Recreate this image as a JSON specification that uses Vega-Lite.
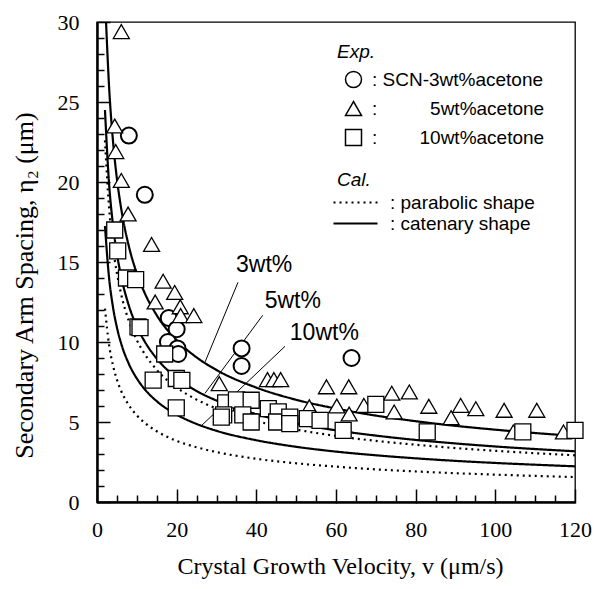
{
  "$schema": "https://vega.github.io/schema/vega-lite/v6.json",
  "autosize": {"type": "none"},
  "width": 478,
  "height": 480,
  "padding": {"left": 97, "top": 22, "right": 23, "bottom": 87},
  "background": "white",
  "config": {
    "view": {"stroke": "black", "strokeWidth": 1.3},
    "axis": {"grid": false, "labelColor": "black", "titleColor": "black", "domainColor": "black"},
    "legend": {"padding": 0, "labelFont": "Liberation Sans", "labelFontSize": 19, "labelColor": "black", "labelLimit": 0, "titleFont": "Liberation Sans", "titleFontSize": 19, "titleFontWeight": "normal", "titleFontStyle": "italic", "titleColor": "black"}
  },
  "datasets": {
    "curves": [
      {"conc": "3wt%", "shape": "catenary", "v": 2.27, "eta": 30.0},
      {"conc": "3wt%", "shape": "catenary", "v": 3, "eta": 26.1},
      {"conc": "3wt%", "shape": "catenary", "v": 4, "eta": 22.6},
      {"conc": "3wt%", "shape": "catenary", "v": 5, "eta": 20.2},
      {"conc": "3wt%", "shape": "catenary", "v": 6, "eta": 18.45},
      {"conc": "3wt%", "shape": "catenary", "v": 8, "eta": 15.98},
      {"conc": "3wt%", "shape": "catenary", "v": 10, "eta": 14.29},
      {"conc": "3wt%", "shape": "catenary", "v": 12, "eta": 13.05},
      {"conc": "3wt%", "shape": "catenary", "v": 15, "eta": 11.67},
      {"conc": "3wt%", "shape": "catenary", "v": 20, "eta": 10.11},
      {"conc": "3wt%", "shape": "catenary", "v": 25, "eta": 9.04},
      {"conc": "3wt%", "shape": "catenary", "v": 30, "eta": 8.25},
      {"conc": "3wt%", "shape": "catenary", "v": 40, "eta": 7.15},
      {"conc": "3wt%", "shape": "catenary", "v": 50, "eta": 6.39},
      {"conc": "3wt%", "shape": "catenary", "v": 60, "eta": 5.84},
      {"conc": "3wt%", "shape": "catenary", "v": 70, "eta": 5.40},
      {"conc": "3wt%", "shape": "catenary", "v": 80, "eta": 5.05},
      {"conc": "3wt%", "shape": "catenary", "v": 90, "eta": 4.76},
      {"conc": "3wt%", "shape": "catenary", "v": 100, "eta": 4.52},
      {"conc": "3wt%", "shape": "catenary", "v": 110, "eta": 4.31},
      {"conc": "3wt%", "shape": "catenary", "v": 120, "eta": 4.13},
      {"conc": "5wt%", "shape": "catenary", "v": 2, "eta": 24.5},
      {"conc": "5wt%", "shape": "catenary", "v": 3, "eta": 20.0},
      {"conc": "5wt%", "shape": "catenary", "v": 4, "eta": 17.35},
      {"conc": "5wt%", "shape": "catenary", "v": 5, "eta": 15.52},
      {"conc": "5wt%", "shape": "catenary", "v": 6, "eta": 14.17},
      {"conc": "5wt%", "shape": "catenary", "v": 8, "eta": 12.27},
      {"conc": "5wt%", "shape": "catenary", "v": 10, "eta": 10.97},
      {"conc": "5wt%", "shape": "catenary", "v": 12, "eta": 10.02},
      {"conc": "5wt%", "shape": "catenary", "v": 15, "eta": 8.96},
      {"conc": "5wt%", "shape": "catenary", "v": 20, "eta": 7.76},
      {"conc": "5wt%", "shape": "catenary", "v": 25, "eta": 6.94},
      {"conc": "5wt%", "shape": "catenary", "v": 30, "eta": 6.34},
      {"conc": "5wt%", "shape": "catenary", "v": 40, "eta": 5.49},
      {"conc": "5wt%", "shape": "catenary", "v": 50, "eta": 4.91},
      {"conc": "5wt%", "shape": "catenary", "v": 60, "eta": 4.48},
      {"conc": "5wt%", "shape": "catenary", "v": 70, "eta": 4.15},
      {"conc": "5wt%", "shape": "catenary", "v": 80, "eta": 3.88},
      {"conc": "5wt%", "shape": "catenary", "v": 90, "eta": 3.66},
      {"conc": "5wt%", "shape": "catenary", "v": 100, "eta": 3.47},
      {"conc": "5wt%", "shape": "catenary", "v": 110, "eta": 3.31},
      {"conc": "5wt%", "shape": "catenary", "v": 120, "eta": 3.17},
      {"conc": "5wt%", "shape": "parabolic", "v": 2, "eta": 22.6},
      {"conc": "5wt%", "shape": "parabolic", "v": 3, "eta": 18.5},
      {"conc": "5wt%", "shape": "parabolic", "v": 4, "eta": 16.0},
      {"conc": "5wt%", "shape": "parabolic", "v": 5, "eta": 14.3},
      {"conc": "5wt%", "shape": "parabolic", "v": 6, "eta": 13.06},
      {"conc": "5wt%", "shape": "parabolic", "v": 8, "eta": 11.31},
      {"conc": "5wt%", "shape": "parabolic", "v": 10, "eta": 10.12},
      {"conc": "5wt%", "shape": "parabolic", "v": 12, "eta": 9.24},
      {"conc": "5wt%", "shape": "parabolic", "v": 15, "eta": 8.26},
      {"conc": "5wt%", "shape": "parabolic", "v": 20, "eta": 7.16},
      {"conc": "5wt%", "shape": "parabolic", "v": 25, "eta": 6.4},
      {"conc": "5wt%", "shape": "parabolic", "v": 30, "eta": 5.84},
      {"conc": "5wt%", "shape": "parabolic", "v": 40, "eta": 5.06},
      {"conc": "5wt%", "shape": "parabolic", "v": 50, "eta": 4.53},
      {"conc": "5wt%", "shape": "parabolic", "v": 60, "eta": 4.13},
      {"conc": "5wt%", "shape": "parabolic", "v": 70, "eta": 3.82},
      {"conc": "5wt%", "shape": "parabolic", "v": 80, "eta": 3.58},
      {"conc": "5wt%", "shape": "parabolic", "v": 90, "eta": 3.37},
      {"conc": "5wt%", "shape": "parabolic", "v": 100, "eta": 3.2},
      {"conc": "5wt%", "shape": "parabolic", "v": 110, "eta": 3.05},
      {"conc": "5wt%", "shape": "parabolic", "v": 120, "eta": 2.92},
      {"conc": "10wt%", "shape": "catenary", "v": 2, "eta": 17.25},
      {"conc": "10wt%", "shape": "catenary", "v": 3, "eta": 14.09},
      {"conc": "10wt%", "shape": "catenary", "v": 4, "eta": 12.2},
      {"conc": "10wt%", "shape": "catenary", "v": 5, "eta": 10.91},
      {"conc": "10wt%", "shape": "catenary", "v": 6, "eta": 9.96},
      {"conc": "10wt%", "shape": "catenary", "v": 8, "eta": 8.63},
      {"conc": "10wt%", "shape": "catenary", "v": 10, "eta": 7.72},
      {"conc": "10wt%", "shape": "catenary", "v": 12, "eta": 7.04},
      {"conc": "10wt%", "shape": "catenary", "v": 15, "eta": 6.3},
      {"conc": "10wt%", "shape": "catenary", "v": 20, "eta": 5.46},
      {"conc": "10wt%", "shape": "catenary", "v": 25, "eta": 4.88},
      {"conc": "10wt%", "shape": "catenary", "v": 30, "eta": 4.45},
      {"conc": "10wt%", "shape": "catenary", "v": 40, "eta": 3.86},
      {"conc": "10wt%", "shape": "catenary", "v": 50, "eta": 3.45},
      {"conc": "10wt%", "shape": "catenary", "v": 60, "eta": 3.15},
      {"conc": "10wt%", "shape": "catenary", "v": 70, "eta": 2.92},
      {"conc": "10wt%", "shape": "catenary", "v": 80, "eta": 2.73},
      {"conc": "10wt%", "shape": "catenary", "v": 90, "eta": 2.57},
      {"conc": "10wt%", "shape": "catenary", "v": 100, "eta": 2.44},
      {"conc": "10wt%", "shape": "catenary", "v": 110, "eta": 2.33},
      {"conc": "10wt%", "shape": "catenary", "v": 120, "eta": 2.23},
      {"conc": "10wt%", "shape": "parabolic", "v": 2, "eta": 12.09},
      {"conc": "10wt%", "shape": "parabolic", "v": 3, "eta": 9.87},
      {"conc": "10wt%", "shape": "parabolic", "v": 4, "eta": 8.55},
      {"conc": "10wt%", "shape": "parabolic", "v": 5, "eta": 7.65},
      {"conc": "10wt%", "shape": "parabolic", "v": 6, "eta": 6.98},
      {"conc": "10wt%", "shape": "parabolic", "v": 8, "eta": 6.05},
      {"conc": "10wt%", "shape": "parabolic", "v": 10, "eta": 5.41},
      {"conc": "10wt%", "shape": "parabolic", "v": 12, "eta": 4.94},
      {"conc": "10wt%", "shape": "parabolic", "v": 15, "eta": 4.42},
      {"conc": "10wt%", "shape": "parabolic", "v": 20, "eta": 3.82},
      {"conc": "10wt%", "shape": "parabolic", "v": 25, "eta": 3.42},
      {"conc": "10wt%", "shape": "parabolic", "v": 30, "eta": 3.12},
      {"conc": "10wt%", "shape": "parabolic", "v": 40, "eta": 2.7},
      {"conc": "10wt%", "shape": "parabolic", "v": 50, "eta": 2.42},
      {"conc": "10wt%", "shape": "parabolic", "v": 60, "eta": 2.21},
      {"conc": "10wt%", "shape": "parabolic", "v": 70, "eta": 2.04},
      {"conc": "10wt%", "shape": "parabolic", "v": 80, "eta": 1.91},
      {"conc": "10wt%", "shape": "parabolic", "v": 90, "eta": 1.8},
      {"conc": "10wt%", "shape": "parabolic", "v": 100, "eta": 1.71},
      {"conc": "10wt%", "shape": "parabolic", "v": 110, "eta": 1.63},
      {"conc": "10wt%", "shape": "parabolic", "v": 120, "eta": 1.56}
    ],
    "points": [
      {"conc": "3wt%", "v": 8.0, "eta": 22.9},
      {"conc": "3wt%", "v": 12.0, "eta": 19.2},
      {"conc": "3wt%", "v": 18.0, "eta": 11.5},
      {"conc": "3wt%", "v": 20.0, "eta": 10.8},
      {"conc": "3wt%", "v": 17.8, "eta": 10.0},
      {"conc": "3wt%", "v": 20.2, "eta": 9.6},
      {"conc": "3wt%", "v": 20.4, "eta": 9.25},
      {"conc": "3wt%", "v": 36.3, "eta": 9.6},
      {"conc": "3wt%", "v": 36.3, "eta": 8.5},
      {"conc": "3wt%", "v": 63.9, "eta": 9.0},
      {"conc": "5wt%", "v": 6.1, "eta": 29.4},
      {"conc": "5wt%", "v": 4.45, "eta": 23.5},
      {"conc": "5wt%", "v": 4.7, "eta": 21.9},
      {"conc": "5wt%", "v": 6.1, "eta": 20.1},
      {"conc": "5wt%", "v": 7.8, "eta": 18.0},
      {"conc": "5wt%", "v": 13.7, "eta": 16.1},
      {"conc": "5wt%", "v": 16.6, "eta": 13.8},
      {"conc": "5wt%", "v": 19.5, "eta": 13.1},
      {"conc": "5wt%", "v": 14.6, "eta": 12.5},
      {"conc": "5wt%", "v": 20.9, "eta": 12.2},
      {"conc": "5wt%", "v": 21.0, "eta": 11.65},
      {"conc": "5wt%", "v": 24.3, "eta": 11.65},
      {"conc": "5wt%", "v": 30.7, "eta": 7.4},
      {"conc": "5wt%", "v": 42.8, "eta": 7.65},
      {"conc": "5wt%", "v": 44.4, "eta": 7.65},
      {"conc": "5wt%", "v": 46.1, "eta": 7.65},
      {"conc": "5wt%", "v": 57.6, "eta": 7.2},
      {"conc": "5wt%", "v": 63.2, "eta": 7.2},
      {"conc": "5wt%", "v": 74.0, "eta": 6.8},
      {"conc": "5wt%", "v": 78.4, "eta": 6.88},
      {"conc": "5wt%", "v": 53.3, "eta": 5.95},
      {"conc": "5wt%", "v": 60.2, "eta": 6.0},
      {"conc": "5wt%", "v": 63.3, "eta": 5.5},
      {"conc": "5wt%", "v": 67.0, "eta": 6.04},
      {"conc": "5wt%", "v": 74.6, "eta": 5.63},
      {"conc": "5wt%", "v": 83.3, "eta": 5.98},
      {"conc": "5wt%", "v": 88.9, "eta": 5.27},
      {"conc": "5wt%", "v": 91.3, "eta": 6.04},
      {"conc": "5wt%", "v": 95.1, "eta": 5.83},
      {"conc": "5wt%", "v": 102.2, "eta": 5.73},
      {"conc": "5wt%", "v": 110.4, "eta": 5.73},
      {"conc": "5wt%", "v": 104.5, "eta": 4.38},
      {"conc": "5wt%", "v": 117.1, "eta": 4.38},
      {"conc": "10wt%", "v": 4.45, "eta": 17.0},
      {"conc": "10wt%", "v": 5.2, "eta": 15.7},
      {"conc": "10wt%", "v": 7.4, "eta": 14.0},
      {"conc": "10wt%", "v": 9.7, "eta": 13.9},
      {"conc": "10wt%", "v": 10.3, "eta": 10.95},
      {"conc": "10wt%", "v": 10.8, "eta": 10.9},
      {"conc": "10wt%", "v": 17.0, "eta": 9.25},
      {"conc": "10wt%", "v": 14.1, "eta": 7.62},
      {"conc": "10wt%", "v": 19.9, "eta": 7.72},
      {"conc": "10wt%", "v": 21.3, "eta": 7.6},
      {"conc": "10wt%", "v": 19.9, "eta": 5.88},
      {"conc": "10wt%", "v": 32.3, "eta": 6.2},
      {"conc": "10wt%", "v": 35.0, "eta": 6.38},
      {"conc": "10wt%", "v": 38.7, "eta": 6.36},
      {"conc": "10wt%", "v": 31.8, "eta": 5.45},
      {"conc": "10wt%", "v": 31.2, "eta": 5.3},
      {"conc": "10wt%", "v": 36.6, "eta": 5.45},
      {"conc": "10wt%", "v": 38.7, "eta": 5.0},
      {"conc": "10wt%", "v": 43.0, "eta": 5.83},
      {"conc": "10wt%", "v": 45.5, "eta": 5.63},
      {"conc": "10wt%", "v": 45.1, "eta": 5.0},
      {"conc": "10wt%", "v": 48.4, "eta": 5.31},
      {"conc": "10wt%", "v": 48.4, "eta": 4.9},
      {"conc": "10wt%", "v": 52.8, "eta": 5.21},
      {"conc": "10wt%", "v": 56.0, "eta": 5.1},
      {"conc": "10wt%", "v": 61.8, "eta": 4.48},
      {"conc": "10wt%", "v": 70.0, "eta": 6.1},
      {"conc": "10wt%", "v": 82.9, "eta": 4.38},
      {"conc": "10wt%", "v": 106.9, "eta": 4.38},
      {"conc": "10wt%", "v": 120.0, "eta": 4.48}
    ],
    "notes": [
      {"label": "3wt%", "v": 34.9, "eta": 14.4, "v1": 35.4, "eta1": 13.73, "v2": 27.1, "eta2": 8.73},
      {"label": "5wt%", "v": 42.1, "eta": 12.1, "v1": 41.6, "eta1": 11.67, "v2": 27.1, "eta2": 6.79},
      {"label": "10wt%", "v": 48.4, "eta": 10.1, "v1": 47.2, "eta1": 9.73, "v2": 26.3, "eta2": 4.79}
    ]
  },
  "resolve": {"axis": {"x": "independent", "y": "independent"}},
  "layer": [
    {
      "data": {"name": "curves"},
      "mark": {"type": "line", "color": "black", "strokeWidth": 2.2, "interpolate": "monotone", "clip": true},
      "encoding": {
        "x": {"field": "v", "type": "quantitative", "scale": {"domain": [0, 120], "nice": false, "zero": false},
          "axis": {"orient": "bottom", "values": [0, 20, 40, 60, 80, 100, 120], "ticks": true, "tickSize": 1, "tickColor": "black", "tickWidth": 1.5, "zindex": 2, "domainWidth": 2.5, "labelPadding": 16, "labelFont": "Liberation Serif", "labelFontSize": 22, "labelFlush": false, "labelOverlap": false,
            "title": "Crystal Growth Velocity, v (μm/s)", "titleFont": "Liberation Serif", "titleFontSize": 24, "titleFontWeight": "normal", "titleBaseline": "alphabetic", "titleX": 243, "titleY": 71}},
        "y": {"field": "eta", "type": "quantitative", "scale": {"domain": [0, 30], "nice": false, "zero": false},
          "axis": {"orient": "left", "values": [0, 5, 10, 15, 20, 25, 30], "ticks": true, "tickSize": 1, "tickColor": "black", "tickWidth": 1.5, "zindex": 2, "domainWidth": 2.5, "labelPadding": 17, "labelFont": "Liberation Serif", "labelFontSize": 22, "labelFlush": false, "labelOverlap": false,
            "title": "Secondary Arm Spacing, η₂ (μm)", "titleFont": "Liberation Serif", "titleFontSize": 26, "titleFontWeight": "normal", "titleX": -60, "titleY": 263}},
        "detail": {"field": "conc"},
        "strokeDash": {"field": "shape", "type": "nominal",
          "scale": {"domain": ["parabolic", "catenary"], "range": [[2, 4], [1, 0]]},
          "legend": {"orient": "none", "legendX": 240, "legendY": 149, "title": "Cal.", "titlePadding": 3, "symbolType": "M-4,0H4", "symbolSize": 121, "symbolStrokeWidth": 2.2, "symbolStrokeColor": "black", "symbolOffset": 9, "labelOffset": 25, "rowPadding": 1,
            "labelExpr": "': ' + datum.label + ' shape'"}}
      }
    },
    {
      "data": {"name": "notes"},
      "mark": {"type": "rule", "color": "black", "strokeWidth": 1},
      "encoding": {
        "x": {"field": "v1", "type": "quantitative",
          "axis": {"orient": "bottom", "offset": -13, "ticks": true, "values": [0, 20, 40, 60, 80, 100, 120], "tickSize": 13, "tickColor": "black", "tickWidth": 1.5, "zindex": 2, "labels": false, "domain": false, "title": null}},
        "y": {"field": "eta1", "type": "quantitative",
          "axis": {"orient": "left", "offset": -13, "ticks": true, "values": [0, 5, 10, 15, 20, 25, 30], "tickSize": 13, "tickColor": "black", "tickWidth": 1.5, "zindex": 2, "labels": false, "domain": false, "title": null}},
        "x2": {"field": "v2"},
        "y2": {"field": "eta2"}
      }
    },
    {
      "data": {"name": "notes"},
      "mark": {"type": "text", "font": "Liberation Sans", "fontSize": 23, "align": "left", "baseline": "alphabetic", "color": "black"},
      "encoding": {
        "x": {"field": "v", "type": "quantitative",
          "axis": {"orient": "bottom", "offset": -7, "ticks": true, "values": [5, 10, 15, 25, 30, 35, 45, 50, 55, 65, 70, 75, 85, 90, 95, 105, 110, 115], "tickSize": 7, "tickColor": "black", "tickWidth": 1.5, "zindex": 2, "labels": false, "domain": false, "title": null}},
        "y": {"field": "eta", "type": "quantitative",
          "axis": {"orient": "left", "offset": -7, "ticks": true, "values": [1, 2, 3, 4, 6, 7, 8, 9, 11, 12, 13, 14, 16, 17, 18, 19, 21, 22, 23, 24, 26, 27, 28, 29], "tickSize": 7, "tickColor": "black", "tickWidth": 1.5, "zindex": 2, "labels": false, "domain": false, "title": null}},
        "text": {"field": "label"}
      }
    },
    {
      "data": {"name": "points"},
      "mark": {"type": "point", "filled": true, "fill": "white", "stroke": "black", "opacity": 1, "size": 256},
      "encoding": {
        "x": {"field": "v", "type": "quantitative", "axis": null},
        "y": {"field": "eta", "type": "quantitative", "axis": null},
        "shape": {"field": "conc", "type": "nominal",
          "scale": {"domain": ["3wt%", "5wt%", "10wt%"], "range": ["circle", "triangle-up", "square"]},
          "legend": {"orient": "none", "legendX": 240, "legendY": 21, "title": "Exp.", "titlePadding": 8, "symbolSize": 256, "symbolOffset": 7, "labelOffset": 9, "rowPadding": 7,
            "encode": {"symbols": {"update": {"fill": {"value": "white"}, "stroke": {"value": "black"}, "strokeWidth": {"value": 1.3}, "opacity": {"value": 1}}}},
            "labelExpr": "datum.label == '3wt%' ? ': SCN-3wt%acetone' : datum.label == '5wt%' ? ':\u00a0\u00a0\u00a0\u00a0\u00a0\u00a0\u00a0\u00a0\u00a0\u00a05wt%acetone' : ':\u00a0\u00a0\u00a0\u00a0\u00a0\u00a0\u00a0\u00a010wt%acetone'"}},
        "strokeWidth": {"condition": {"test": "datum.conc == '3wt%'", "value": 2}, "value": 1.3}
      }
    }
  ]
}
